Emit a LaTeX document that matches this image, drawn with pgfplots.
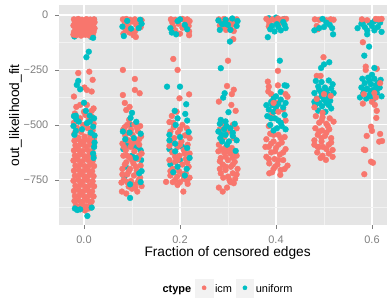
\documentclass[border=0pt]{standalone}
\usepackage{fontspec}
\setmainfont{Liberation Sans}
\usepackage{pgfplots}
\pgfplotsset{compat=1.18}
\definecolor{icm}{HTML}{F8766D}
\definecolor{unif}{HTML}{00BFC4}
\definecolor{gggrey90}{HTML}{E5E5E5}
\definecolor{gggrey95}{HTML}{F2F2F2}
\definecolor{gggrey50}{HTML}{7F7F7F}
\pgfplotsset{
  pti/.style={only marks, mark=*, mark size=2.9bp, color=icm, mark options={draw=none}, forget plot},
  ptu/.style={only marks, mark=*, mark size=2.9bp, color=unif, mark options={draw=none}, forget plot},
}
\begin{document}
\begin{tikzpicture}
\useasboundingbox (0,0) rectangle (387bp,301bp);
\begin{axis}[
  at={(59bp,76bp)}, anchor=south west,
  scale only axis, width=328bp, height=219.5bp,
  xmin=-0.0521, xmax=0.6313, ymin=-955, ymax=43,
  axis background/.style={fill=gggrey90},
  axis x line*=bottom, axis y line*=left, axis line style={draw=none,-},
  tick align=outside, major tick length=4bp, minor tick length=0pt,
  tick style={gggrey50, line width=0.6bp},
  xtick={0,0.2,0.4,0.6}, minor xtick={0.1,0.3,0.5},
  ytick={-750,-500,-250,0}, minor ytick={-875,-625,-375,-125},
  xticklabels={0.0,0.2,0.4,0.6}, yticklabels={−750,−500,−250,0},
  grid=both, major grid style={white, line width=1.1bp}, minor grid style={gggrey95, line width=0.5bp},
  ticklabel style={font=\fontsize{11}{13}\selectfont, text=gggrey50},
  xticklabel style={inner sep=0pt, anchor=north, yshift=-6.5bp},
  yticklabel style={inner sep=0pt, anchor=east, xshift=-6.5bp},
  xlabel={Fraction of censored edges},
  ylabel={out\_likelihood\_fit},
  label style={font=\fontsize{13.76}{16}\selectfont},
  xlabel style={at={(axis description cs:0.514,-0.098)}, anchor=north, inner sep=0pt},
  ylabel style={at={(axis description cs:-0.1128,0.5)}, anchor=south, inner sep=0pt},
  legend columns=-1,
  legend style={at={(axis description cs:0.5137,-0.287)}, anchor=center, draw=none, fill=none,
    font=\fontsize{11}{13}\selectfont, inner sep=0pt,
    /tikz/every even column/.append style={column sep=2bp}},
]
% ---------- uniform (under) ----------
\addplot[ptu] coordinates {
(0.015,-100) (-0.020,-98) (0.010,-60) (-0.015,-40) (0.021,-22)
(0.100,-640) (0.119,-660) (0.087,-690) (0.113,-600) (0.082,-610) (0.084,-735)
(0.105,-600) (0.090,-590) (0.118,-615) (0.097,-500)
(0.178,-610) (0.205,-600) (0.200,-660) (0.180,-680)
(0.385,-15) (0.400,-12) (0.418,-18)
(0.582,-30) (0.595,-35) (0.605,-28) (0.617,-35) (0.585,-55) (0.600,-50) (0.612,-55)
(0.590,-70) (0.620,-77) (0.590,-88) (0.578,-40) (0.605,-70) (0.570,-60)
};
% ---------- icm ----------
\addplot[pti] coordinates {
(-0.021,-20) (-0.012,-18) (-0.004,-22) (0.005,-19) (0.013,-21) (0.021,-20)
(-0.019,-34) (-0.010,-32) (-0.002,-36) (0.007,-31) (0.016,-35) (0.022,-33)
(-0.022,-48) (-0.014,-46) (-0.006,-50) (0.003,-45) (0.011,-49) (0.019,-47)
(-0.018,-62) (-0.009,-60) (0.000,-65) (0.008,-59) (0.017,-64) (0.022,-61)
(-0.021,-78) (-0.013,-76) (-0.004,-80) (0.005,-75) (0.013,-79) (0.020,-77)
(-0.016,-92) (-0.006,-94) (0.003,-90) (0.011,-93) (-0.022,-89) (0.018,-91)
(-0.017,-27) (0.009,-40) (-0.008,-56) (0.015,-71) (-0.012,-86) (0.001,-26)
(-0.012,-264) (0.011,-258) (0.018,-295) (0.006,-341) (0.016,-348) (0.001,-330)
(-0.021,-371) (-0.008,-409) (0.006,-409) (0.016,-436) (-0.016,-418) (0.000,-440) (0.020,-425)
(-0.019,-448) (0.003,-455) (0.016,-462) (-0.008,-470) (0.010,-478) (-0.021,-490)
(0.020,-495) (-0.002,-500) (-0.015,-512) (0.008,-515) (0.018,-525) (-0.006,-532)
(-0.020,-540) (0.013,-545) (0.001,-553) (-0.012,-558) (0.021,-560)
(-0.020,-572) (-0.011,-566) (-0.001,-574) (0.009,-569) (0.016,-575)
(-0.018,-593) (-0.008,-589) (0.002,-596) (0.012,-590) (0.021,-598)
(-0.021,-616) (-0.012,-612) (-0.003,-619) (0.007,-613) (0.017,-618)
(-0.019,-639) (-0.009,-635) (0.001,-642) (0.011,-636) (0.020,-641)
(-0.022,-662) (-0.013,-658) (-0.003,-665) (0.008,-659) (0.018,-664)
(-0.018,-685) (-0.008,-681) (0.002,-688) (0.012,-682) (0.021,-687)
(-0.021,-708) (-0.011,-704) (-0.002,-711) (0.008,-705) (0.017,-710)
(-0.019,-731) (-0.009,-727) (0.001,-734) (0.011,-728) (0.020,-733)
(-0.022,-754) (-0.012,-750) (-0.003,-757) (0.007,-751) (0.018,-756)
(-0.018,-777) (-0.008,-773) (0.002,-780) (0.012,-774) (0.021,-779)
(-0.021,-800) (-0.011,-796) (-0.002,-803) (0.008,-797) (0.017,-802)
(-0.019,-823) (-0.009,-819) (0.001,-826) (0.011,-820) (0.020,-825)
(-0.020,-846) (-0.012,-842) (-0.003,-849) (0.007,-843) (0.016,-848)
(-0.017,-867) (-0.006,-863) (0.004,-870) (0.013,-864)
(0.002,-889) (-0.004,-878) (0.010,-880)
% col 0.1
(0.081,-20) (0.088,-18) (0.096,-22) (0.106,-20) (0.120,-24) (0.085,-35) (0.100,-30)
(0.113,-28) (0.092,-50) (0.109,-45) (0.087,-70) (0.095,-80) (0.106,-75) (0.103,-92)
(0.108,-100) (0.118,-55) (0.082,-86)
(0.081,-250) (0.106,-291) (0.106,-341) (0.116,-356) (0.081,-364) (0.085,-400)
(0.095,-418) (0.088,-432) (0.094,-477)
(0.090,-500) (0.105,-498) (0.117,-505) (0.082,-520) (0.098,-522) (0.112,-528)
(0.086,-548) (0.101,-545) (0.119,-552) (0.093,-570) (0.108,-575) (0.080,-585)
(0.115,-590) (0.097,-600) (0.087,-615) (0.105,-620) (0.120,-630) (0.082,-640)
(0.095,-648) (0.112,-655) (0.088,-670) (0.103,-675) (0.118,-685) (0.080,-700)
(0.096,-700) (0.110,-708) (0.090,-725) (0.104,-730) (0.117,-740) (0.083,-750)
(0.098,-755) (0.112,-762) (0.078,-762) (0.093,-780) (0.107,-785) (0.120,-778)
(0.079,-803) (0.088,-812) (0.111,-803) (0.100,-790)
(0.085,-510) (0.110,-512) (0.092,-535) (0.115,-565) (0.100,-585) (0.083,-600)
(0.090,-640) (0.115,-640) (0.100,-660) (0.085,-680) (0.108,-690) (0.093,-712)
(0.080,-725) (0.114,-750) (0.090,-760) (0.102,-770)
% col 0.2
(0.181,-20) (0.190,-22) (0.205,-18) (0.215,-20) (0.220,-28) (0.184,-35) (0.197,-40)
(0.212,-32) (0.186,-55) (0.205,-58) (0.218,-50) (0.219,-75) (0.219,-92) (0.200,-85) (0.190,-70)
(0.186,-200) (0.195,-250) (0.219,-361) (0.199,-379) (0.183,-459) (0.193,-440)
(0.178,-487) (0.186,-490) (0.205,-500) (0.214,-515) (0.180,-530) (0.196,-535)
(0.210,-548) (0.220,-560) (0.188,-560) (0.203,-575) (0.216,-590) (0.178,-595)
(0.195,-600) (0.208,-615) (0.184,-625) (0.220,-630) (0.199,-640) (0.212,-655)
(0.178,-660) (0.190,-668) (0.205,-680) (0.218,-690) (0.185,-700) (0.198,-710)
(0.212,-720) (0.180,-730) (0.194,-735) (0.208,-745) (0.171,-759) (0.195,-773)
(0.216,-768) (0.207,-803) (0.190,-750) (0.220,-740)
(0.187,-510) (0.200,-520) (0.215,-545) (0.185,-580) (0.200,-590) (0.210,-630)
(0.190,-645) (0.215,-670) (0.195,-660) (0.180,-710) (0.205,-725) (0.215,-755)
(0.185,-760) (0.200,-760)
% col 0.3
(0.281,-20) (0.292,-18) (0.305,-24) (0.318,-20) (0.285,-35) (0.300,-30) (0.312,-40)
(0.290,-55) (0.305,-55) (0.312,-73) (0.283,-48) (0.296,-68)
(0.311,-110) (0.300,-208)
(0.298,-323) (0.281,-394) (0.307,-409) (0.316,-436) (0.308,-360) (0.312,-340)
(0.290,-495) (0.310,-500) (0.283,-520) (0.302,-530) (0.318,-515) (0.292,-555)
(0.312,-560) (0.281,-590) (0.296,-600) (0.308,-605) (0.280,-620) (0.292,-625)
(0.305,-630) (0.318,-640) (0.285,-650) (0.300,-660) (0.314,-668) (0.289,-680)
(0.306,-690) (0.320,-700) (0.295,-705) (0.310,-720) (0.300,-735) (0.315,-745)
(0.305,-760) (0.281,-785) (0.289,-803) (0.298,-785) (0.283,-700) (0.310,-650)
(0.287,-610) (0.300,-620) (0.315,-625) (0.295,-645) (0.283,-665) (0.310,-680)
(0.295,-690) (0.285,-720) (0.303,-750) (0.318,-725) (0.290,-740) (0.312,-765)
% col 0.4
(0.380,-18) (0.392,-20) (0.404,-16) (0.414,-20) (0.421,-18) (0.386,-35) (0.400,-30)
(0.410,-35) (0.385,-52)
(0.404,-254)
(0.383,-303) (0.385,-326) (0.384,-348) (0.404,-320) (0.390,-360) (0.424,-372)
(0.402,-400) (0.415,-430) (0.392,-450) (0.420,-480) (0.385,-505)
(0.388,-540) (0.405,-545) (0.418,-555) (0.380,-565) (0.395,-575) (0.412,-580)
(0.385,-600) (0.400,-605) (0.420,-610) (0.390,-625) (0.408,-635) (0.380,-645)
(0.397,-655) (0.415,-660) (0.386,-675) (0.403,-680) (0.424,-685) (0.395,-700)
(0.410,-705) (0.386,-720) (0.409,-727) (0.378,-600)
(0.395,-545) (0.410,-560) (0.390,-585) (0.405,-590) (0.415,-625) (0.398,-620)
(0.385,-655) (0.405,-660) (0.418,-700) (0.398,-690) (0.392,-715)
% col 0.5
(0.481,-20) (0.490,-22) (0.505,-24) (0.514,-20) (0.520,-22) (0.485,-50) (0.487,-65)
(0.499,-192) (0.485,-277) (0.493,-277)
(0.483,-460) (0.497,-465) (0.512,-470) (0.490,-490) (0.505,-495) (0.520,-485)
(0.482,-515) (0.496,-525) (0.511,-520) (0.487,-545) (0.502,-550) (0.480,-570)
(0.495,-575) (0.515,-580) (0.490,-600) (0.505,-610) (0.518,-614) (0.486,-625)
(0.497,-640) (0.518,-645) (0.493,-650) (0.504,-659) (0.480,-590)
(0.495,-480) (0.508,-505) (0.490,-530) (0.505,-535) (0.515,-560) (0.495,-560)
(0.510,-590) (0.498,-600) (0.510,-630) (0.487,-600)
% col 0.6
(0.579,-20) (0.590,-24) (0.608,-18) (0.614,-20) (0.620,-18)
(0.581,-124) (0.587,-235) (0.587,-250) (0.610,-245)
};
% ---------- uniform (over) ----------
\addplot[ptu] coordinates {
(0.019,-104) (0.010,-167) (0.005,-192)
(-0.012,-300) (-0.015,-318) (-0.008,-338) (0.000,-399) (0.004,-436) (0.012,-485) (-0.017,-458)
(-0.021,-460) (-0.016,-475) (0.012,-458) (0.021,-470) (-0.011,-485) (0.006,-492)
(-0.022,-505) (0.019,-508) (-0.004,-520) (0.014,-535) (-0.017,-527) (0.022,-548)
(0.022,-580) (0.021,-600) (0.019,-630) (0.020,-650) (-0.020,-545)
(-0.019,-880) (-0.014,-887) (-0.008,-884) (0.007,-914) (0.016,-876)
% col 0.1
(0.080,-53) (0.083,-96) (0.117,-22) (0.114,-60) (0.098,-62) (0.120,-40) (0.090,-27)
(0.100,-445) (0.097,-468) (0.109,-486)
(0.081,-530) (0.095,-535) (0.118,-540) (0.086,-565) (0.104,-560) (0.120,-710)
(0.115,-720) (0.096,-770) (0.096,-832) (0.118,-760) (0.108,-650)
% col 0.2
(0.180,-60) (0.195,-28) (0.210,-45) (0.183,-80) (0.200,-20) (0.215,-65) (0.192,-88)
(0.173,-326) (0.200,-326) (0.213,-406) (0.189,-436) (0.211,-450) (0.195,-470) (0.215,-480)
(0.191,-500) (0.218,-532) (0.178,-545) (0.200,-555) (0.178,-570) (0.190,-585)
(0.190,-620) (0.215,-605) (0.214,-700) (0.195,-690) (0.210,-730) (0.220,-650) (0.186,-715)
% col 0.3
(0.280,-25) (0.295,-22) (0.309,-16) (0.320,-28) (0.288,-42) (0.318,-50) (0.300,-45)
(0.283,-68) (0.305,-68) (0.295,-40)
(0.304,-121) (0.285,-242)
(0.293,-356) (0.290,-376) (0.301,-442) (0.285,-477) (0.295,-484)
(0.283,-495) (0.297,-505) (0.314,-495) (0.280,-530) (0.295,-545) (0.310,-535)
(0.288,-575) (0.302,-575) (0.318,-570) (0.284,-560) (0.305,-515) (0.316,-618) (0.298,-590)
(0.292,-520) (0.310,-550) (0.287,-545)
% col 0.4
(0.383,-101) (0.392,-50) (0.405,-55) (0.418,-45) (0.397,-75) (0.410,-70) (0.420,-60)
(0.388,-65) (0.402,-42) (0.415,-32)
(0.408,-208)
(0.418,-320) (0.422,-322) (0.410,-350) (0.395,-380) (0.380,-410) (0.390,-395)
(0.410,-385) (0.420,-400) (0.385,-430) (0.400,-420) (0.418,-455) (0.382,-460)
(0.398,-470) (0.410,-490) (0.388,-500) (0.402,-515) (0.420,-520) (0.395,-440)
(0.392,-410) (0.405,-405) (0.415,-420) (0.390,-470) (0.405,-480) (0.395,-525)
(0.412,-505) (0.400,-370)
% col 0.5
(0.497,-18) (0.505,-35) (0.512,-45) (0.490,-60) (0.480,-70) (0.519,-88) (0.500,-55) (0.517,-60)
(0.511,-215) (0.500,-225) (0.494,-241)
(0.483,-300) (0.495,-305) (0.510,-298) (0.488,-325) (0.502,-330) (0.515,-335)
(0.480,-355) (0.494,-350) (0.508,-360) (0.520,-355) (0.485,-380) (0.500,-385)
(0.513,-390) (0.482,-410) (0.496,-415) (0.510,-410) (0.488,-435) (0.503,-440)
(0.480,-395) (0.518,-315)
(0.490,-340) (0.505,-345) (0.495,-370) (0.510,-375) (0.490,-400) (0.505,-400) (0.515,-425)
% col 0.6
(0.594,-144) (0.584,-185) (0.605,-241) (0.600,-272)
(0.580,-290) (0.592,-285) (0.605,-290) (0.618,-295) (0.585,-310) (0.598,-315)
(0.612,-310) (0.578,-330) (0.590,-335) (0.603,-340) (0.616,-330) (0.582,-355)
(0.596,-360) (0.610,-355) (0.588,-380) (0.602,-385) (0.575,-375) (0.620,-370)
(0.595,-300) (0.608,-320) (0.598,-345) (0.585,-340) (0.610,-340) (0.595,-370)
};
% ---------- icm (over) ----------
\addplot[pti] coordinates {
(0.485,-382) (0.500,-360) (0.514,-368) (0.497,-445) (0.480,-420)
(0.583,-360) (0.605,-355) (0.617,-310) (0.581,-403) (0.600,-395) (0.608,-375)
(0.606,-409) (0.610,-436) (0.609,-468) (0.598,-508) (0.600,-527) (0.589,-550)
(0.617,-541) (0.621,-573) (0.586,-614) (0.583,-612) (0.598,-667) (0.602,-672)
(0.584,-724) (0.615,-576)
(0.405,-440) (0.395,-400) (0.420,-360)
};
% ---------- legend ----------
\addlegendimage{empty legend}
\addlegendentry{\vphantom{fy}\textbf{ctype}\hspace{1bp}}
\addlegendimage{legend image code/.code={\fill[gggrey95] (0bp,-7.85bp) rectangle (17.4bp,10.55bp); \fill[icm] (8.7bp,1.55bp) circle (2.1bp);}}
\addlegendentry{\vphantom{fy}icm}
\addlegendimage{legend image code/.code={\fill[gggrey95] (0bp,-7.85bp) rectangle (17.4bp,10.55bp); \fill[unif] (8.7bp,1.55bp) circle (2.1bp);}}
\addlegendentry{\vphantom{fy}uniform}
\end{axis}
\end{tikzpicture}
\end{document}
